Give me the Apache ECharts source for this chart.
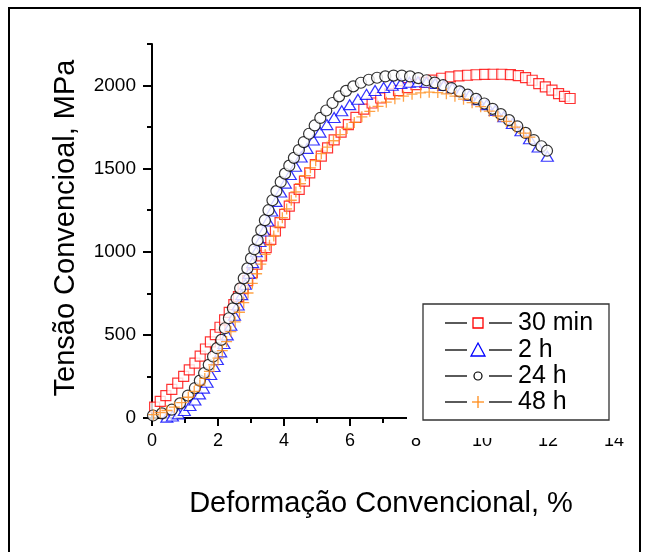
<!DOCTYPE html>
<html>
<head>
<meta charset="utf-8">
<script src="https://cdn.jsdelivr.net/npm/echarts@6/dist/echarts.min.js"></script>
<style>
html, body { margin: 0; padding: 0; background: #fff; }
#chart { width: 648px; height: 552px; }
</style>
</head>
<body>
<div id="chart"></div>
<script>
// curvas tensão x deformação
const seriesNames = ['30 min', '2 h', '24 h', '48 h'];
const stressTicks = [0, 500, 1000, 1500, 2000];

const strain30 = [0.08, 0.25, 0.42, 0.6, 0.78, 0.96, 1.13, 1.3, 1.46, 1.62, 1.77, 1.92, 2.06, 2.2, 2.34, 2.48, 2.62, 2.76, 2.9, 3.04, 3.18, 3.32, 3.46, 3.6, 3.74, 3.88, 4.02, 4.16, 4.31, 4.46, 4.62, 4.78, 4.95, 5.13, 5.32, 5.52, 5.73, 5.95, 6.18, 6.42, 6.67, 6.93, 7.2, 7.47, 7.74, 8.0, 8.26, 8.52, 8.78, 9.04, 9.3, 9.56, 9.82, 10.08, 10.34, 10.6, 10.86, 11.1, 11.32, 11.52, 11.72, 11.92, 12.12, 12.32, 12.5, 12.67];
const stress30 = [65, 100, 135, 172, 210, 250, 290, 330, 372, 415, 458, 502, 546, 590, 636, 682, 730, 778, 826, 875, 925, 975, 1025, 1075, 1125, 1175, 1225, 1275, 1325, 1375, 1425, 1475, 1525, 1575, 1625, 1673, 1720, 1765, 1808, 1858, 1895, 1925, 1950, 1970, 1988, 2005, 2020, 2033, 2044, 2052, 2058, 2062, 2065, 2067, 2068, 2068, 2066, 2060, 2048, 2032, 2012, 1992, 1972, 1952, 1935, 1922];

const strain2 = [0.45, 0.62, 0.8, 0.98, 1.15, 1.3, 1.44, 1.56, 1.67, 1.78, 1.88, 1.98, 2.08, 2.18, 2.28, 2.39, 2.5, 2.61, 2.72, 2.83, 2.94, 3.05, 3.16, 3.27, 3.39, 3.51, 3.63, 3.76, 3.9, 4.04, 4.19, 4.35, 4.52, 4.7, 4.89, 5.09, 5.3, 5.52, 5.75, 5.99, 6.24, 6.5, 6.76, 7.02, 7.28, 7.54, 7.8, 8.06, 8.32, 8.58, 8.84, 9.1, 9.36, 9.62, 9.88, 10.14, 10.4, 10.66, 10.92, 11.18, 11.44, 11.7, 11.98];
const stress2 = [5, 12, 25, 45, 75, 108, 145, 180, 215, 262, 310, 352, 398, 448, 500, 558, 618, 680, 742, 805, 870, 935, 1000, 1062, 1125, 1185, 1245, 1303, 1360, 1413, 1465, 1515, 1570, 1622, 1672, 1720, 1765, 1808, 1848, 1885, 1918, 1947, 1970, 1988, 2002, 2012, 2020, 2023, 2020, 2012, 2000, 1985, 1965, 1942, 1915, 1885, 1850, 1812, 1772, 1728, 1680, 1630, 1575];

const strain24 = [0.03, 0.3, 0.6, 0.85, 1.09, 1.3, 1.45, 1.58, 1.72, 1.85, 1.97, 2.1, 2.21, 2.33, 2.45, 2.56, 2.67, 2.78, 2.89, 3.0, 3.1, 3.2, 3.31, 3.42, 3.53, 3.65, 3.77, 3.9, 4.03, 4.16, 4.3, 4.45, 4.6, 4.76, 4.93, 5.1, 5.28, 5.47, 5.67, 5.88, 6.1, 6.33, 6.57, 6.82, 7.07, 7.32, 7.57, 7.82, 8.07, 8.32, 8.57, 8.82, 9.07, 9.32, 9.57, 9.82, 10.07, 10.32, 10.57, 10.82, 11.07, 11.32, 11.57, 11.8, 11.97];
const stress24 = [15, 28, 50, 88, 135, 180, 225, 270, 320, 370, 420, 470, 540, 600, 660, 720, 780, 840, 900, 960, 1015, 1070, 1130, 1190, 1250, 1310, 1365, 1420, 1470, 1518, 1565, 1612, 1660, 1710, 1760, 1805, 1850, 1895, 1935, 1968, 1995, 2017, 2035, 2047, 2055, 2060, 2060, 2055, 2045, 2032, 2018, 2002, 1985, 1965, 1945, 1920, 1892, 1860, 1828, 1792, 1755, 1715, 1672, 1635, 1608];

const strain48 = [0.05, 0.25, 0.45, 0.68, 0.9, 1.1, 1.28, 1.45, 1.6, 1.74, 1.87, 2.0, 2.13, 2.26, 2.39, 2.52, 2.65, 2.78, 2.91, 3.04, 3.17, 3.3, 3.43, 3.56, 3.69, 3.82, 3.95, 4.08, 4.22, 4.36, 4.5, 4.65, 4.8, 4.96, 5.13, 5.31, 5.5, 5.7, 5.91, 6.13, 6.36, 6.6, 6.85, 7.1, 7.36, 7.62, 7.88, 8.14, 8.4, 8.66, 8.92, 9.18, 9.44, 9.7, 9.96, 10.22, 10.48, 10.74, 11.0, 11.26, 11.45];
const stress48 = [20, 32, 45, 65, 92, 125, 160, 198, 238, 280, 320, 360, 405, 460, 520, 578, 636, 694, 752, 810, 868, 926, 984, 1040, 1095, 1150, 1205, 1258, 1310, 1360, 1410, 1458, 1505, 1548, 1590, 1630, 1668, 1705, 1742, 1778, 1812, 1845, 1875, 1900, 1920, 1936, 1948, 1956, 1960, 1958, 1950, 1936, 1918, 1897, 1873, 1846, 1816, 1784, 1750, 1714, 1690];

const font = "'Liberation Sans', Arial, sans-serif";
const plusPath = 'path://M4.4,0H5.6V4.4H10V5.6H5.6V10H4.4V5.6H0V4.4H4.4Z';

const pairs = (xs, ys) => xs.map((x, i) => [x, ys[i]]);

const chart = echarts.init(document.getElementById('chart'));

// legenda desenhada à mão (linha preta + símbolo colorido)
const rows = [323, 350, 376, 402];
const legendItems = [];
rows.forEach((y, i) => {
    legendItems.push({ type: 'line', z: 101, shape: { x1: 445, y1: y, x2: 467, y2: y }, style: { stroke: '#000', lineWidth: 1.3 } });
    legendItems.push({ type: 'line', z: 101, shape: { x1: 489, y1: y, x2: 512, y2: y }, style: { stroke: '#000', lineWidth: 1.3 } });
    legendItems.push({
        type: 'text', z: 101, x: 518, y: y,
        style: { text: seriesNames[i], fontSize: 25, fontFamily: font, fill: '#000', textAlign: 'left', textVerticalAlign: 'middle' }
    });
});
legendItems.push({ type: 'rect', z: 102, shape: { x: 473, y: rows[0] - 5, width: 10, height: 10 }, style: { fill: '#fff', stroke: '#ff0000', lineWidth: 1.3 } });
legendItems.push({ type: 'polygon', z: 102, shape: { points: [[478, rows[1] - 7], [485, rows[1] + 6], [471, rows[1] + 6]] }, style: { fill: '#fff', stroke: '#0000ff', lineWidth: 1.3 } });
legendItems.push({ type: 'circle', z: 102, shape: { cx: 478, cy: rows[2], r: 4 }, style: { fill: '#fff', stroke: '#000', lineWidth: 1.2 } });
legendItems.push({ type: 'line', z: 102, shape: { x1: 472, y1: rows[3], x2: 484, y2: rows[3] }, style: { stroke: '#ff8c1a', lineWidth: 1.3 } });
legendItems.push({ type: 'line', z: 102, shape: { x1: 478, y1: rows[3] - 6, x2: 478, y2: rows[3] + 6 }, style: { stroke: '#ff8c1a', lineWidth: 1.3 } });

const option = {
    animation: false,
    backgroundColor: '#fff',
    grid: { left: 152, right: 34, top: 44, bottom: 134 },
    xAxis: {
        type: 'value', min: 0, max: 14, interval: 2,
        axisLine: { lineStyle: { color: '#000', width: 2 } },
        axisTick: { length: 8, lineStyle: { color: '#000', width: 2 } },
        minorTick: { show: true, splitNumber: 2, length: 5, lineStyle: { color: '#000', width: 2 } },
        axisLabel: { fontSize: 18, fontFamily: font, color: '#000', margin: 14 },
        splitLine: { show: false }
    },
    yAxis: [
        {
            type: 'value', min: 0, max: 2250, interval: 500, position: 'left',
            axisLine: { show: true, lineStyle: { color: '#000', width: 2 } },
            axisTick: { show: true, length: 9, customValues: stressTicks, lineStyle: { color: '#000', width: 2 } },
            axisLabel: { customValues: stressTicks, formatter: v => String(v), fontSize: 19, fontFamily: font, color: '#000', margin: 16 },
            splitLine: { show: false }
        },
        {
            type: 'value', min: 0, max: 2250, interval: 250, position: 'left', offset: 0,
            axisLine: { show: false },
            axisTick: { show: true, length: 5, lineStyle: { color: '#000', width: 2 } },
            axisLabel: { show: false },
            splitLine: { show: false }
        }
    ],
    series: [
        {
            name: seriesNames[0], type: 'scatter', data: pairs(strain30, stress30),
            symbol: 'rect', symbolSize: 10, z: 2,
            itemStyle: { color: '#fff', borderColor: '#ff0000', borderWidth: 1.2 }
        },
        {
            name: seriesNames[1], type: 'scatter', data: pairs(strain2, stress2),
            symbol: 'triangle', symbolSize: [12, 10], z: 3,
            itemStyle: { color: '#fff', borderColor: '#0000ff', borderWidth: 1.2 }
        },
        {
            name: seriesNames[2], type: 'scatter', data: pairs(strain24, stress24),
            symbol: 'circle', symbolSize: 11, z: 4,
            itemStyle: { color: '#fff', borderColor: '#000', borderWidth: 1.2 }
        },
        {
            name: seriesNames[3], type: 'scatter', data: pairs(strain48, stress48),
            symbol: plusPath, symbolSize: 11, z: 5,
            itemStyle: { color: '#ff8c1a' }
        }
    ],
    graphic: [
        { type: 'rect', z: 1, silent: true, shape: { x: 9, y: 8, width: 631, height: 600 }, style: { fill: 'none', stroke: '#000', lineWidth: 2 } },
        { type: 'rect', z: 100, shape: { x: 407, y: 296, width: 222, height: 142 }, style: { fill: '#fff' } },
        { type: 'rect', z: 101, shape: { x: 423, y: 304, width: 186, height: 116 }, style: { fill: 'none', stroke: '#333', lineWidth: 1.3 } },
        ...legendItems,
        {
            type: 'text', x: 66, y: 228, rotation: Math.PI / 2,
            style: { text: 'Tensão Convencioal, MPa', fontSize: 29, fontFamily: font, fill: '#000', textAlign: 'center', textVerticalAlign: 'middle' }
        },
        {
            type: 'text', x: 381, y: 504,
            style: { text: 'Deformação Convencional, %', fontSize: 29, fontFamily: font, fill: '#000', textAlign: 'center', textVerticalAlign: 'middle' }
        }
    ]
};

chart.setOption(option);
</script>
</body>
</html>
